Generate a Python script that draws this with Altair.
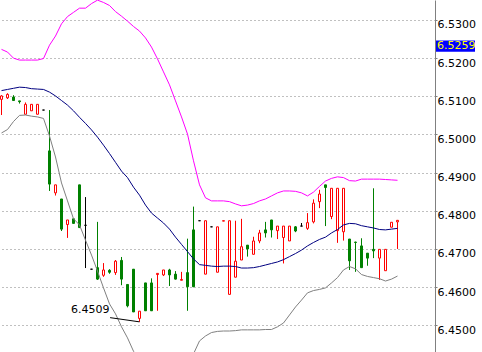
import altair as alt
import pandas as pd

# ---- candle data (one entry per bar, oldest first) ----
opens = [6.5092, 6.5096, 6.5098, 6.5088, 6.5053, 6.5062, 6.5053, 6.5064, 6.4957, 6.4847,
         6.4831, 6.4764, 6.4779, 6.4868, 6.4762, 6.4647, 6.4651, 6.4631, 6.4644, 6.4638,
         6.4670, 6.4607, 6.4647, 6.4518, 6.4611, 6.4611, 6.4633, 6.4632, 6.4645, 6.4634,
         6.4618, 6.4638, 6.4750, 6.4774, 6.4634, 6.4758, 6.4639, 6.4773, 6.4581, 6.4626,
         6.4671, 6.4710, 6.4686, 6.4721, 6.4750, 6.4776, 6.4748, 6.4730, 6.4721, 6.4758,
         6.4760, 6.4754, 6.4771, 6.4824, 6.4868, 6.4785, 6.4748, 6.4745, 6.4726, 6.4718,
         6.4708, 6.4689, 6.4699, 6.4676, 6.4643, 6.4757, 6.4771]
highs = [6.5103, 6.5108, 6.5103, 6.5088, 6.5084, 6.5079, 6.5079, 6.5064, 6.5064, 6.4868,
         6.4831, 6.4776, 6.4779, 6.4868, 6.4836, 6.4647, 6.4771, 6.4663, 6.4647, 6.4671,
         6.4679, 6.4607, 6.4647, 6.4537, 6.4611, 6.4623, 6.4636, 6.4645, 6.4648, 6.4642,
         6.4640, 6.4727, 6.4811, 6.4774, 6.4774, 6.4758, 6.4758, 6.4774, 6.4774, 6.4774,
         6.4779, 6.4710, 6.4732, 6.4750, 6.4771, 6.4776, 6.4760, 6.4760, 6.4760, 6.4760,
         6.4768, 6.4794, 6.4830, 6.4855, 6.4868, 6.4859, 6.4859, 6.4859, 6.4726, 6.4719,
         6.4728, 6.4689, 6.4859, 6.4699, 6.4699, 6.4770, 6.4776]
lows = [6.5051, 6.5093, 6.5089, 6.5081, 6.5053, 6.5062, 6.5053, 6.5064, 6.4852, 6.4840,
        6.4747, 6.4729, 6.4767, 6.4755, 6.4650, 6.4647, 6.4619, 6.4627, 6.4635, 6.4632,
        6.4605, 6.4547, 6.4535, 6.4509, 6.4538, 6.4538, 6.4538, 6.4629, 6.4603, 6.4620,
        6.4618, 6.4538, 6.4600, 6.4774, 6.4634, 6.4758, 6.4639, 6.4773, 6.4581, 6.4626,
        6.4671, 6.4680, 6.4686, 6.4715, 6.4730, 6.4730, 6.4726, 6.4662, 6.4721, 6.4744,
        6.4760, 6.4750, 6.4767, 6.4807, 6.4760, 6.4778, 6.4716, 6.4722, 6.4645, 6.4640,
        6.4651, 6.4656, 6.4676, 6.4619, 6.4643, 6.4757, 6.4700]
closes = [6.5101, 6.5105, 6.5089, 6.5086, 6.5079, 6.5079, 6.5079, 6.5064, 6.4870, 6.4868,
          6.4752, 6.4776, 6.4767, 6.4756, 6.4762, 6.4647, 6.4621, 6.4645, 6.4639, 6.4668,
          6.4621, 6.4551, 6.4535, 6.4537, 6.4538, 6.4538, 6.4636, 6.4645, 6.4632, 6.4621,
          6.4620, 6.4601, 6.4601, 6.4774, 6.4774, 6.4758, 6.4758, 6.4774, 6.4774, 6.4668,
          6.4706, 6.4700, 6.4721, 6.4742, 6.4742, 6.4750, 6.4760, 6.4760, 6.4760, 6.4747,
          6.4760, 6.4769, 6.4820, 6.4844, 6.4861, 6.4859, 6.4859, 6.4859, 6.4669, 6.4717,
          6.4651, 6.4676, 6.4695, 6.4699, 6.4699, 6.4770, 6.4775]

# ---- Bollinger bands ----
upper = [6.5223, 6.5216, 6.5200, 6.5195, 6.5195, 6.5195, 6.5195, 6.5199, 6.5234, 6.5258,
         6.5290, 6.5309, 6.5320, 6.5331, 6.5331, 6.5343, 6.5352, 6.5346, 6.5338, 6.5322,
         6.5310, 6.5297, 6.5283, 6.5271, 6.5253, 6.5229, 6.5198, 6.5164, 6.5130, 6.5088,
         6.5046, 6.5001, 6.4931, 6.4868, 6.4834, 6.4826, 6.4826, 6.4826, 6.4824, 6.4818,
         6.4813, 6.4815, 6.4819, 6.4826, 6.4831, 6.4839, 6.4847, 6.4852, 6.4852, 6.4851,
         6.4847, 6.4839, 6.4849, 6.4864, 6.4878, 6.4885, 6.4889, 6.4887, 6.4879, 6.4878,
         6.4883, 6.4883, 6.4883, 6.4883, 6.4882, 6.4881, 6.4880]
middle = [6.5115, 6.5118, 6.5121, 6.5124, 6.5123, 6.5120, 6.5119, 6.5118, 6.5111, 6.5101,
          6.5089, 6.5077, 6.5062, 6.5045, 6.5029, 6.5012, 6.4993, 6.4972, 6.4950, 6.4927,
          6.4904, 6.4887, 6.4862, 6.4841, 6.4815, 6.4794, 6.4781, 6.4768, 6.4752, 6.4731,
          6.4712, 6.4693, 6.4674, 6.4659, 6.4657, 6.4655, 6.4654, 6.4655, 6.4655, 6.4654,
          6.4650, 6.4650, 6.4651, 6.4654, 6.4658, 6.4662, 6.4666, 6.4672, 6.4680, 6.4688,
          6.4697, 6.4708, 6.4717, 6.4725, 6.4731, 6.4742, 6.4751, 6.4763, 6.4767, 6.4766,
          6.4761, 6.4758, 6.4755, 6.4751, 6.4750, 6.4752, 6.4754]
lower = [6.5004, 6.5013, 6.5034, 6.5050, 6.5051, 6.5048, 6.5046, 6.5042, 6.4996, 6.4941,
         6.4873, 6.4826, 6.4779, 6.4763, 6.4723, 6.4684, 6.4642, 6.4598, 6.4556, 6.4530,
         6.4496, 6.4467, 6.4432, 6.4411, 6.4377, 6.4359, 6.4364, 6.4372, 6.4374, 6.4374,
         6.4378, 6.4385, 6.4425, 6.4459, 6.4472, 6.4481, 6.4484, 6.4485, 6.4485, 6.4486,
         6.4488, 6.4488, 6.4488, 6.4488, 6.4489, 6.4489, 6.4496, 6.4506, 6.4527, 6.4548,
         6.4566, 6.4585, 6.4591, 6.4594, 6.4598, 6.4611, 6.4625, 6.4645, 6.4654, 6.4648,
         6.4633, 6.4628, 6.4625, 6.4622, 6.4616, 6.4621, 6.4629]

y_ticks = [6.45, 6.46, 6.47, 6.48, 6.49, 6.50, 6.51, 6.52, 6.53]

low_label = "6.4509"
low_line_x = [18.1, 23.0]
low_line_y = [6.4520, 6.4509]
low_label_x = 11.6
low_label_y = 6.4531

price_label = "6.5259"
price_box_top = 6.5246
price_box_bottom = 6.5217

n = len(opens)
df = pd.DataFrame({
    "i": list(range(n)),
    "open": opens, "high": highs, "low": lows, "close": closes,
    "upper": upper, "middle": middle, "lower": lower,
})
df["kind"] = ["up" if c > o else ("down" if c < o else "flat") for o, c in zip(opens, closes)]

xs = alt.Scale(domain=[-0.25, 72.25], nice=False, zero=False)
ys = alt.Scale(domain=[6.4430, 6.53524], nice=False, zero=False)
kinds = ["up", "down", "flat"]
stroke_scale = alt.Scale(domain=kinds, range=["#ff0000", "#008000", "#000000"])
fill_scale = alt.Scale(domain=kinds, range=["#ffffff", "#008000", "#000000"])

FONT = "DejaVu Sans"

y_axis = alt.Axis(
    orient="right", values=y_ticks, format=".4f", title=None,
    grid=True, gridDash=[1, 3], gridColor="#808080", gridWidth=1,
    domainColor="#808080", domainWidth=1,
    ticks=True, tickSize=2, tickColor="#808080",
    labelFont=FONT, labelFontSize=11, labelColor="#000000",
    labelAlign="left", labelBaseline="top", labelPadding=0,
    labelOffset=-1, labelFlush=False, labelOverlap=False,
)


def Y(field):
    return alt.Y(field, scale=ys, axis=y_axis, title=None)


def X(field):
    return alt.X(field, scale=xs, axis=None, title=None)


base = alt.Chart(df)

wicks = base.mark_rule(strokeWidth=1, clip=True).encode(
    x=X("i:Q"),
    y=Y("low:Q"),
    y2="high:Q",
    stroke=alt.Stroke("kind:N", scale=stroke_scale, legend=None),
)

bodies = base.transform_calculate(
    x1="datum.i - 1/6", x2="datum.i + 1/6"
).mark_rect(strokeWidth=1, clip=True).encode(
    x=X("x1:Q"),
    x2="x2:Q",
    y=Y("open:Q"),
    y2="close:Q",
    stroke=alt.Stroke("kind:N", scale=stroke_scale, legend=None),
    fill=alt.Fill("kind:N", scale=fill_scale, legend=None),
)


def band(col, color):
    return base.mark_line(color=color, strokeWidth=1, clip=True).encode(
        x=X("i:Q"),
        y=Y(f"{col}:Q"),
    )


up_line = band("upper", "#ff00ff")
mid_line = band("middle", "#000080")
low_line = band("lower", "#808080")

low_df = pd.DataFrame({"x": low_line_x, "y": low_line_y})
low_mark = alt.Chart(low_df).mark_line(color="#000000", strokeWidth=1, clip=True).encode(
    x=X("x:Q"),
    y=Y("y:Q"),
)
low_text = alt.Chart(pd.DataFrame({"x": [low_label_x], "y": [low_label_y], "t": [low_label]})).mark_text(
    font=FONT, fontSize=11, color="#000000", align="left", baseline="alphabetic"
).encode(
    x=X("x:Q"),
    y=Y("y:Q"),
    text="t:N",
)

price_df = pd.DataFrame({"y": [price_box_top], "y2": [price_box_bottom],
                         "ym": [(price_box_top + price_box_bottom) / 2], "t": [price_label]})
price_box = alt.Chart(price_df).mark_rect(color="#0000ff").encode(
    x=alt.value(436), x2=alt.value(475),
    y=Y("y:Q"), y2="y2:Q",
)
price_text = alt.Chart(price_df).mark_text(
    font=FONT, fontSize=11, color="#ffff00", align="left", baseline="middle"
).encode(
    x=alt.value(437),
    y=Y("ym:Q"),
    text="t:N",
)

chart = alt.layer(
    wicks, bodies, low_line, mid_line, up_line, low_mark, low_text, price_box, price_text
).properties(
    width=435, height=352,
    padding={"left": 0, "right": 47, "top": 0, "bottom": 0},
    autosize="none",
    background="#ffffff",
).configure_view(strokeWidth=0)

chart.save("out.html", embed_options={"renderer": "svg", "actions": False})
